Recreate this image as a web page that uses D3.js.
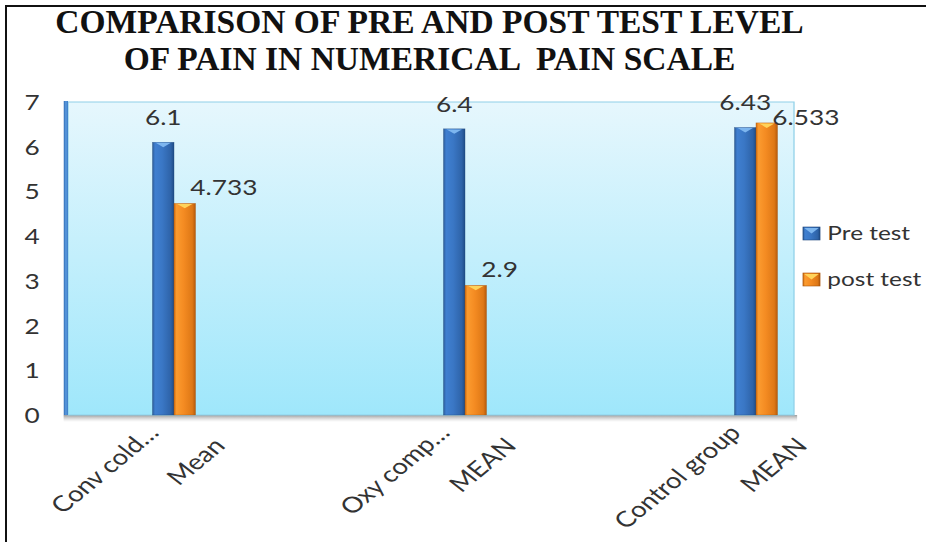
<!DOCTYPE html>
<html>
<head>
<meta charset="utf-8">
<script src="https://cdnjs.cloudflare.com/ajax/libs/d3/7.8.5/d3.min.js"></script>
<style>
  html, body { margin: 0; padding: 0; background: #ffffff; overflow: hidden; }
  svg { display: block; }
</style>
</head>
<body>
<svg id="chart"></svg>
<script>
// ---- data ----
const groupLabels = ["Conv cold\u2026", "Oxy comp\u2026", "Control group"];
const statLabels  = ["Mean", "MEAN", "MEAN"];
const seriesNames = ["Pre test", "post test"];
const preTest  = [6.1, 6.4, 6.43];
const postTest = [4.733, 2.9, 6.533];
const yTicks   = [0, 1, 2, 3, 4, 5, 6, 7];
const titleLines = ["COMPARISON OF PRE AND POST TEST LEVEL", "OF PAIN IN NUMERICAL  PAIN SCALE"];

// ---- layout ----
const W = 926, H = 542;
const SX = 1.25;                 // horizontal stretch of the chart body
const plot = { left: 54.4, right: 635.2, top: 102, bottom: 415 };
const barW = 17.2;
const bodyFont = "Lato, 'Open Sans', 'DejaVu Sans', sans-serif";
const textColor = "#333333";

const svg = d3.select("#chart").attr("width", W).attr("height", H);
const defs = svg.append("defs");

function linear(id, x2, y2, stops) {
  const g = defs.append("linearGradient").attr("id", id)
    .attr("x1", 0).attr("y1", 0).attr("x2", x2).attr("y2", y2);
  stops.forEach(([o, c, a]) => g.append("stop").attr("offset", o)
    .attr("stop-color", c).attr("stop-opacity", a == null ? 1 : a));
}
linear("wall", 0, 1, [[0, "#e6f7fd"], [1, "#9fe7fb"]]);
linear("sideWall", 1, 0, [[0, "#2f6db5"], [0.5, "#5a9ade"], [1, "#3b7cc6"]]);
linear("floor", 0, 1, [[0, "#7a7a7a", 0.75], [1, "#bdbdbd", 0]]);
linear("barBlue", 1, 0, [[0, "#2c5b98"], [0.12, "#3f7fd0"], [0.45, "#3a77c5"], [0.85, "#2e63a8"], [1, "#1f4c86"]]);
linear("barOrange", 1, 0, [[0, "#d26f12"], [0.12, "#fb9b2f"], [0.45, "#f48b22"], [0.85, "#de7816"], [1, "#b55a0b"]]);
const seriesFill = ["url(#barBlue)", "url(#barOrange)"];
const seriesCap = ["#7db6ef", "#ffd35a"];
const seriesEdge = ["#1f477c", "#a8540c"];

// ---- frame ----
svg.append("rect").attr("x", 6).attr("y", 6).attr("width", 960).attr("height", 580)
  .attr("fill", "none").attr("stroke", "#111").attr("stroke-width", 2);

// ---- title ----
svg.append("g").selectAll("text").data(titleLines).join("text")
  .attr("x", 429.5).attr("y", (d, i) => 33 + i * 37)
  .attr("text-anchor", "middle")
  .attr("font-family", "'Liberation Serif', 'Times New Roman', serif")
  .attr("font-weight", "bold").attr("font-size", 33.5).attr("fill", "#111")
  .style("white-space", "pre")
  .text(d => d);

// ---- chart body ----
const body = svg.append("g").attr("transform", `scale(${SX},1)`);

const y = d3.scaleLinear().domain([0, 7]).range([plot.bottom, plot.top]);
const x = d3.scalePoint().domain(groupLabels).range([139.2, 604.8]);
const xs = d3.scaleBand().domain(seriesNames).range([-barW, barW]);

// floor shadow and walls
body.append("rect").attr("x", plot.left - 3.5).attr("y", plot.bottom)
  .attr("width", plot.right - plot.left + 6).attr("height", 7).attr("fill", "url(#floor)");
body.append("rect").attr("x", plot.left).attr("y", plot.top)
  .attr("width", plot.right - plot.left).attr("height", plot.bottom - plot.top)
  .attr("fill", "url(#wall)").attr("stroke", "#8fd0e8").attr("stroke-width", 1);
body.append("rect").attr("x", plot.left - 3.4).attr("y", plot.top - 1)
  .attr("width", 3.4).attr("height", plot.bottom - plot.top + 1)
  .attr("fill", "url(#sideWall)");

// y axis labels
const yAxis = body.append("g").attr("transform", "translate(25.6,0)")
  .call(d3.axisLeft(y).tickValues(yTicks).tickSize(0).tickPadding(0).tickFormat(d3.format("d")));
yAxis.select(".domain").remove();
yAxis.selectAll("text").attr("text-anchor", "middle").attr("x", 0).attr("dy", "0.36em")
  .attr("font-family", bodyFont).attr("font-size", 21).attr("fill", textColor);

// bars
const rows = groupLabels.map((g, i) => ({ group: g, stat: statLabels[i], values: [preTest[i], postTest[i]] }));
const barData = rows.flatMap(r => r.values.map((v, s) => ({ group: r.group, series: seriesNames[s], s, v })));

const bars = body.append("g").selectAll("g").data(barData).join("g");
bars.append("rect")
  .attr("x", d => x(d.group) + xs(d.series))
  .attr("y", d => y(d.v))
  .attr("width", xs.bandwidth())
  .attr("height", d => y(0) - y(d.v))
  .attr("fill", d => seriesFill[d.s])
  .attr("stroke", d => seriesEdge[d.s]).attr("stroke-width", 0.5).attr("stroke-opacity", 0.6);
bars.append("path")
  .attr("d", d => {
    const x0 = x(d.group) + xs(d.series), w = xs.bandwidth(), t = y(d.v);
    return `M${x0 + 2.5},${t + 0.6}L${x0 + w - 2.5},${t + 0.6}L${x0 + w / 2},${t + 5}Z`;
  })
  .attr("fill", d => seriesCap[d.s]);

// value labels
const labels = body.append("g").attr("font-family", bodyFont).attr("font-size", 21).attr("fill", textColor);
rows.forEach(r => {
  const preBase = y(r.values[0]) - 17;
  let postBase = y(r.values[1]) - 8;
  if (postBase - 15 < preBase) postBase = preBase + 15;   // keep clear of the pre-test label
  labels.append("text")
    .attr("x", x(r.group) + xs(seriesNames[0]) + xs.bandwidth() / 2)
    .attr("y", preBase).attr("text-anchor", "middle").text(r.values[0]);
  labels.append("text")
    .attr("x", x(r.group) + xs(seriesNames[1]) + xs.bandwidth() / 2 + 4.5)
    .attr("y", postBase).attr("text-anchor", "start").text(r.values[1]);
});

// category labels
const cats = body.append("g").attr("font-family", bodyFont).attr("font-size", 22).attr("fill", textColor);
cats.selectAll("text.grp").data(rows).join("text").attr("class", "grp")
  .attr("text-anchor", "end")
  .attr("transform", d => `translate(${x(d.group) - 11},434) rotate(-46)`)
  .text(d => d.group);
cats.selectAll("text.stat").data(rows).join("text").attr("class", "stat")
  .attr("text-anchor", "end")
  .attr("transform", d => `translate(${x(d.group) + 42},447) rotate(-46)`)
  .text(d => d.stat);

// legend
const legend = body.append("g").attr("font-family", bodyFont).attr("font-size", 19.5).attr("fill", textColor);
const lg = legend.selectAll("g").data(seriesNames).join("g")
  .attr("transform", (d, i) => `translate(642.4,${227 + i * 46})`);
lg.append("rect").attr("width", 13.6).attr("height", 13)
  .attr("fill", (d, i) => seriesFill[i])
  .attr("stroke", (d, i) => seriesEdge[i]).attr("stroke-width", 0.6);
lg.append("path").attr("d", "M1,1L12.6,1L6.8,6.5Z").attr("fill", (d, i) => seriesCap[i]);
lg.append("text").attr("x", 19.5).attr("y", 13).text(d => d);
</script>
</body>
</html>
